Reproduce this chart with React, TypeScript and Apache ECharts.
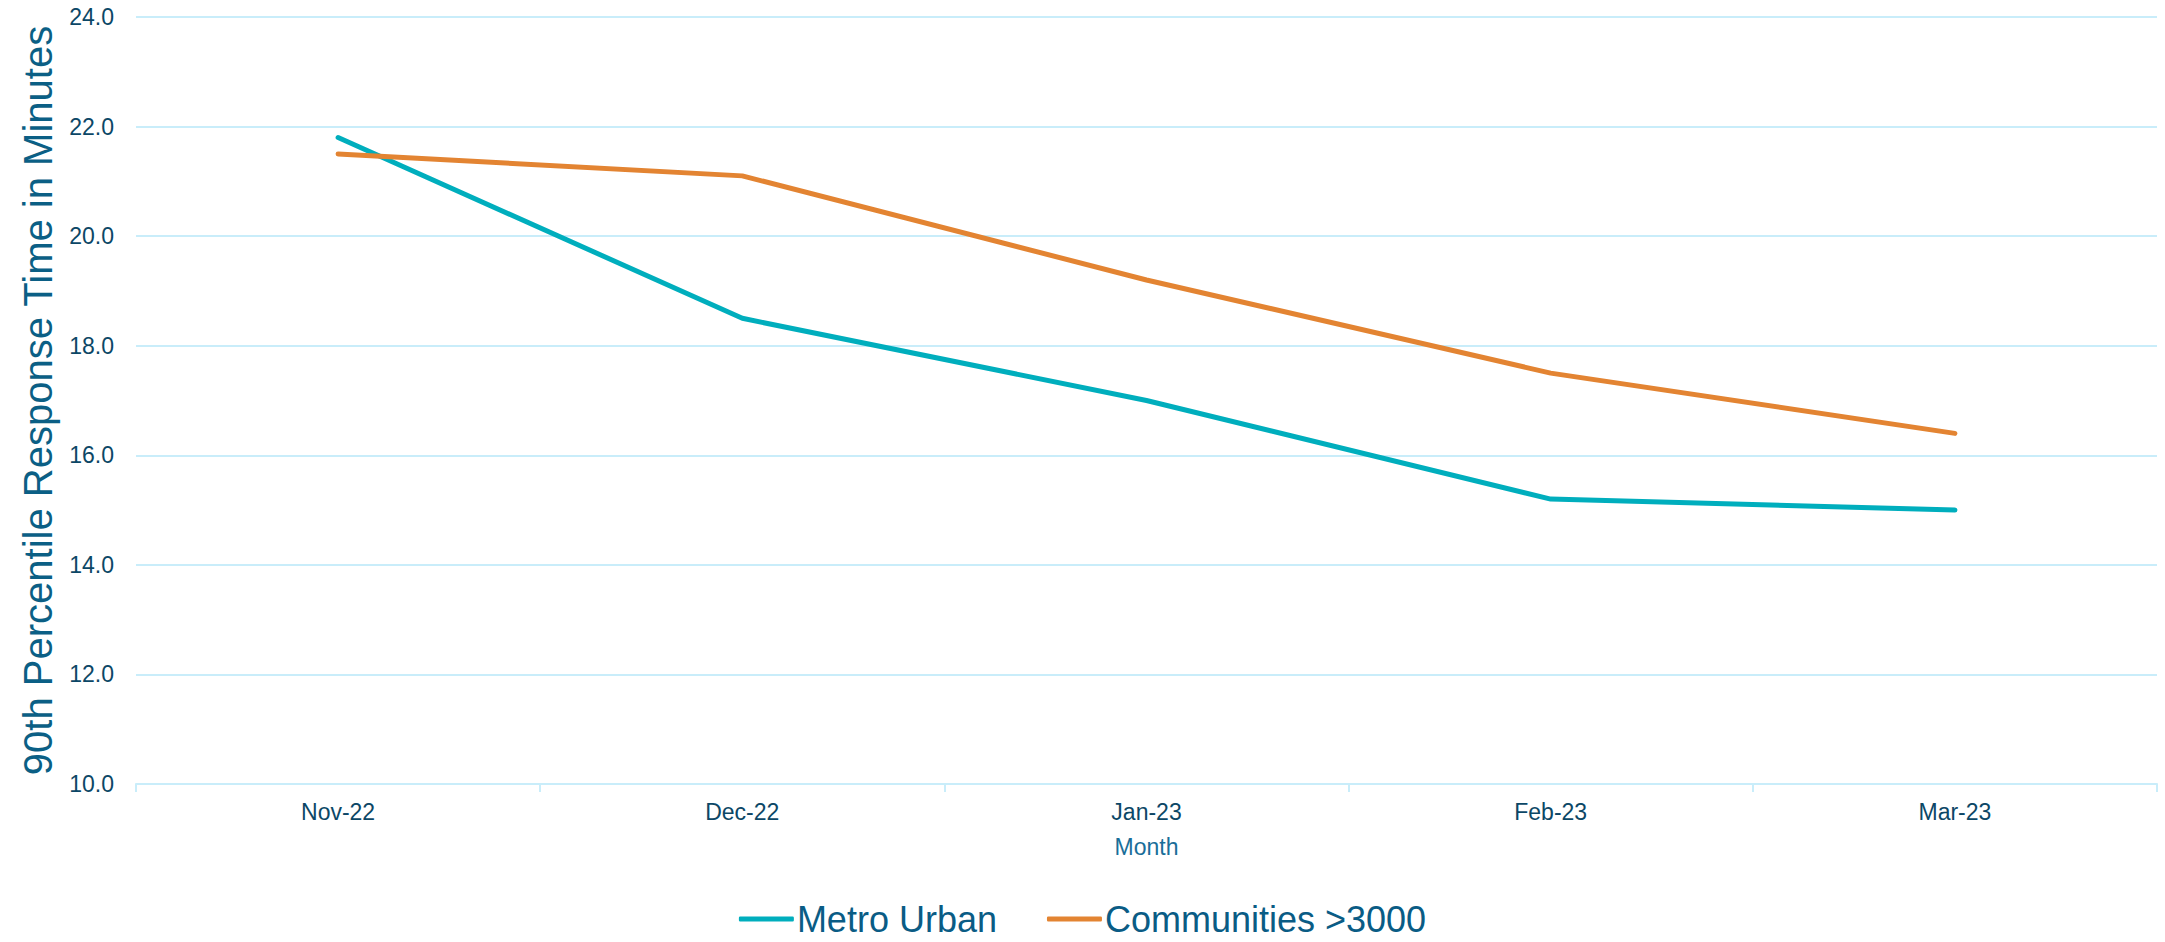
import React, { useEffect, useRef } from "react";
import * as echarts from "echarts";

const months = ["Nov-22", "Dec-22", "Jan-23", "Feb-23", "Mar-23"];
const metroUrban = [21.8, 18.5, 17.0, 15.2, 15.0];
const communities3000 = [21.5, 21.1, 19.2, 17.5, 16.4];
const seriesNames = ["Metro Urban", "Communities >3000"];

export default function App() {
  const ref = useRef<HTMLDivElement>(null);
  useEffect(() => {
    document.body.style.margin = "0";
    const chart = echarts.init(ref.current!, null, { renderer: "svg" });
    chart.setOption({
      animation: false,
      backgroundColor: "#ffffff",
      textStyle: { fontFamily: "Liberation Sans, Arial, sans-serif" },
      grid: { left: 136, right: 8, top: 17, bottom: 158, containLabel: false },
      legend: {
        top: 896,
        left: "center",
        itemWidth: 55,
        itemHeight: 5,
        itemGap: 50,
        icon: "roundRect",
        textStyle: { fontSize: 36, color: "#0A5C85", padding: [0, 0, 0, -2] },
        data: seriesNames,
      },
      xAxis: {
        type: "category",
        data: months,
        boundaryGap: true,
        name: "Month",
        nameLocation: "middle",
        nameGap: 51,
        nameTextStyle: { fontSize: 23, color: "#1A6E99" },
        axisLine: { lineStyle: { color: "#C9EDFA", width: 2 } },
        axisTick: { show: true, length: 8, lineStyle: { color: "#C9EDFA", width: 2 } },
        axisLabel: { fontSize: 23, color: "#0C4766", margin: 16 },
        splitLine: { show: false },
      },
      yAxis: {
        type: "value",
        min: 10,
        max: 24,
        interval: 2,
        name: "90th Percentile Response Time in Minutes",
        nameLocation: "middle",
        nameGap: 57,
        nameTextStyle: { fontSize: 40, color: "#0B5F85" },
        axisLine: { show: false },
        axisTick: { show: false },
        axisLabel: {
          fontSize: 23,
          color: "#0C4766",
          margin: 22,
          formatter: (v: number) => v.toFixed(1),
        },
        splitLine: { lineStyle: { color: "#C9EDFA", width: 2 } },
      },
      series: [
        {
          name: seriesNames[0],
          type: "line",
          data: metroUrban,
          symbol: "none",
          color: "#00AEBD",
          lineStyle: { width: 5, color: "#00AEBD", cap: "round" },
        },
        {
          name: seriesNames[1],
          type: "line",
          data: communities3000,
          symbol: "none",
          color: "#E38432",
          lineStyle: { width: 5, color: "#E38432", cap: "round" },
        },
      ],
    });
    return () => chart.dispose();
  }, []);
  return (
    <div
      ref={ref}
      style={{ position: "absolute", left: 0, top: 0, width: 2165, height: 942 }}
    />
  );
}
